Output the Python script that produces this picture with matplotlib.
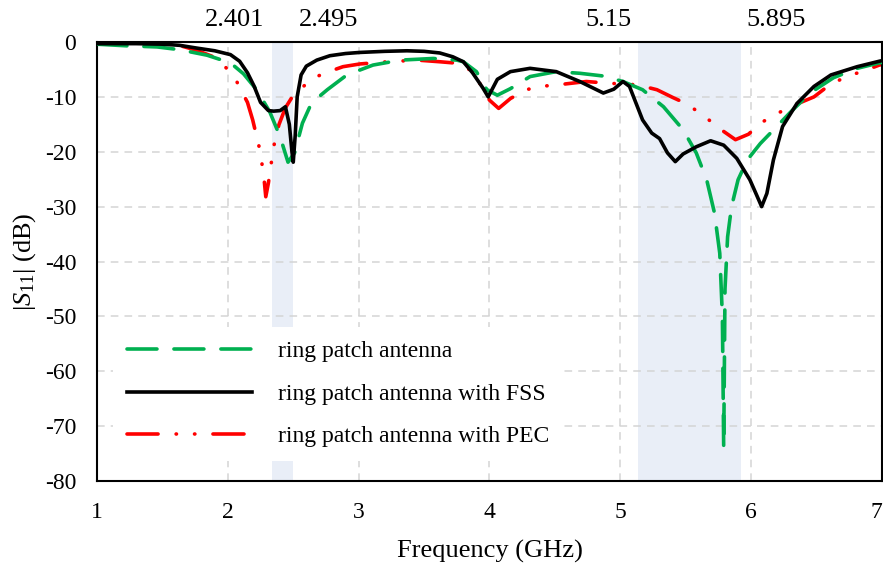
import matplotlib

matplotlib.use("Agg")
import matplotlib.pyplot as plt
from matplotlib.transforms import blended_transform_factory

# measured S11 curves (GHz, dB)
freq_ring = [1.0, 1.23, 1.46, 1.63, 1.84, 2.02, 2.12, 2.22, 2.32, 2.40, 2.46, 2.51, 2.57,
             2.64, 2.76, 2.91, 3.11, 3.32, 3.57, 3.75, 3.80, 3.90, 3.98, 4.06, 4.16, 4.31,
             4.51, 4.69, 4.87, 5.02, 5.17, 5.33, 5.48, 5.58, 5.66, 5.72, 5.76, 5.78, 5.785,
             5.79, 5.795, 5.80, 5.82, 5.85, 5.90, 5.97, 6.07, 6.20, 6.30, 6.45, 6.63, 6.81, 6.98, 7.0]
s11_ring = [-0.4, -0.7, -0.9, -1.4, -2.4, -3.8, -5.8, -8.7, -12.7, -17.3, -21.9, -20.2, -14.8,
            -11.1, -8.7, -6.0, -4.2, -3.3, -3.0, -3.3, -3.6, -5.4, -8.7, -9.7, -8.5, -6.3,
            -5.4, -5.7, -6.2, -7.2, -8.7, -11.8, -16.0, -20.2, -25.1, -31.2, -38.5, -50.0, -62.0,
            -74.0, -60.0, -45.0, -35.5, -30.0, -25.1, -21.5, -18.5, -15.3, -12.8, -9.3, -6.5, -4.8, -3.8, -3.7]

freq_fss = [1.0, 1.3, 1.5, 1.63, 1.76, 1.9, 2.02, 2.09, 2.15, 2.2, 2.25, 2.31, 2.35, 2.40,
            2.44, 2.47, 2.49, 2.50, 2.515, 2.53, 2.56, 2.6, 2.68, 2.78, 2.9, 3.01, 3.2, 3.37,
            3.5, 3.62, 3.72, 3.8, 3.87, 3.95, 3.99, 4.06, 4.16, 4.31, 4.51, 4.69, 4.87, 4.95,
            5.02, 5.07, 5.17, 5.24, 5.30, 5.36, 5.42, 5.48, 5.58, 5.69, 5.79, 5.89, 5.99, 6.04,
            6.08, 6.12, 6.17, 6.24, 6.35, 6.48, 6.61, 6.81, 6.98, 7.0]
s11_fss = [-0.3, -0.3, -0.4, -0.6, -1.1, -1.6, -2.3, -3.5, -5.6, -8.0, -11.0, -12.5, -12.6, -12.5,
           -11.8, -15.0, -20.0, -21.9, -17.0, -10.0, -6.0, -4.4, -3.3, -2.5, -2.1, -1.9, -1.7, -1.6,
           -1.7, -2.0, -2.7, -3.6, -5.6, -8.4, -10.0, -6.8, -5.4, -4.8, -5.4, -7.2, -9.3, -8.6,
           -7.2, -8.1, -14.2, -16.6, -17.6, -20.2, -21.8, -20.4, -19.1, -18.0, -18.8, -21.2, -25.1, -27.8,
           -30.0, -27.6, -21.5, -15.4, -11.2, -8.1, -6.0, -4.5, -3.5, -3.4]

freq_pec = [1.0, 1.33, 1.61, 1.76, 1.89, 1.98, 2.07, 2.15, 2.19, 2.25, 2.28, 2.29, 2.31, 2.35,
            2.39, 2.44, 2.50, 2.65, 2.76, 2.88, 3.01, 3.22, 3.45, 3.62, 3.77, 3.87, 3.94, 4.00,
            4.07, 4.16, 4.28, 4.39, 4.56, 4.74, 4.90, 5.13, 5.28, 5.40, 5.51, 5.61, 5.71, 5.79,
            5.88, 5.98, 6.07, 6.20, 6.30, 6.36, 6.48, 6.60, 6.73, 6.88, 6.98, 7.0]
s11_pec = [-0.2, -0.2, -0.5, -1.5, -2.7, -4.5, -7.3, -11.0, -14.2, -20.2, -25.7, -28.2, -25.7, -19.1,
           -15.1, -12.0, -9.7, -6.6, -5.5, -4.5, -4.0, -3.6, -3.3, -3.6, -3.9, -5.4, -8.1, -10.6,
           -12.1, -10.3, -8.7, -8.1, -7.7, -7.2, -7.5, -7.8, -8.7, -10.1, -11.3, -13.0, -14.8, -16.3,
           -17.8, -16.8, -14.8, -13.0, -11.9, -11.2, -10.0, -7.8, -6.3, -5.1, -4.2, -4.1]

series_labels = ["ring patch antenna", "ring patch antenna with FSS", "ring patch antenna with PEC"]
bands = [(2.335, 2.50), (5.137, 5.919)]
band_labels = [("2.401", "2.495"), ("5.15", "5.895")]
x_ticks = [1, 2, 3, 4, 5, 6, 7]
y_ticks = [0, -10, -20, -30, -40, -50, -60, -70, -80]

plt.rcParams["font.family"] = ["Liberation Serif", "DejaVu Serif"]
plt.rcParams["mathtext.fontset"] = "custom"
plt.rcParams["mathtext.rm"] = "Liberation Serif"
plt.rcParams["mathtext.it"] = "Liberation Serif:italic"
plt.rcParams["axes.unicode_minus"] = False

fig = plt.figure(figsize=(8.83, 5.65), dpi=100)
ax = fig.add_axes([97 / 883, 1 - 481 / 565, 785 / 883, 439 / 565])

for lo, hi in bands:
    ax.axvspan(lo, hi, color="#E9EEF7", lw=0, zorder=0.2)

lw = 2.6
ax.plot(freq_ring, s11_ring, color="#00B050", lw=lw, linestyle=(0, (8.3, 4.7)),
        dash_capstyle="round", label=series_labels[0], zorder=3)
ax.plot(freq_fss, s11_fss, color="black", lw=lw, label=series_labels[1], zorder=3)
ax.plot(freq_pec, s11_pec, color="#FF0000", lw=lw, linestyle=(0, (8.6, 5, 0.1, 5, 0.1, 5)),
        dash_capstyle="round", label=series_labels[2], zorder=2.5)

ax.set_xlim(1, 7)
ax.set_ylim(-80, 0)
ax.set_xticks(x_ticks)
ax.set_yticks(y_ticks)
ax.tick_params(length=0, labelsize=17)
ax.tick_params(axis="y", pad=15)
ax.tick_params(axis="x", pad=15)
ax.grid(True, color="#D4D4D4", ls=(0, (5, 4)), lw=1.1)
ax.set_axisbelow(True)
for sp in ax.spines.values():
    sp.set_linewidth(1.5)

# last tick label sits at the right edge of the figure; keep it inside
fig.canvas.draw()
ax.get_xticklabels()[-1].set_horizontalalignment("right")

ax.set_xlabel("Frequency (GHz)", fontsize=19, labelpad=12)
ax.set_ylabel(r"$|S_{11}|$ (dB)", fontsize=19, labelpad=5)

trans = blended_transform_factory(ax.transData, ax.transAxes)
for (lo, hi), (l1, l2) in zip(bands, band_labels):
    ax.annotate(l1, (lo, 1.0), xycoords=trans, xytext=(-5, 8), textcoords="offset points",
                ha="right", va="bottom", fontsize=19)
    ax.annotate(l2, (hi, 1.0), xycoords=trans, xytext=(4, 8), textcoords="offset points",
                ha="left", va="bottom", fontsize=19)

leg = ax.legend(loc="lower left", bbox_to_anchor=(0.02, 0.045), borderaxespad=0,
                fontsize=17, frameon=True, framealpha=1, facecolor="white", edgecolor="none",
                fancybox=False, handlelength=5.3, handletextpad=1.1, labelspacing=0.88,
                borderpad=0.6)
leg.set_zorder(5)

fig.savefig("out.png", dpi=100)
